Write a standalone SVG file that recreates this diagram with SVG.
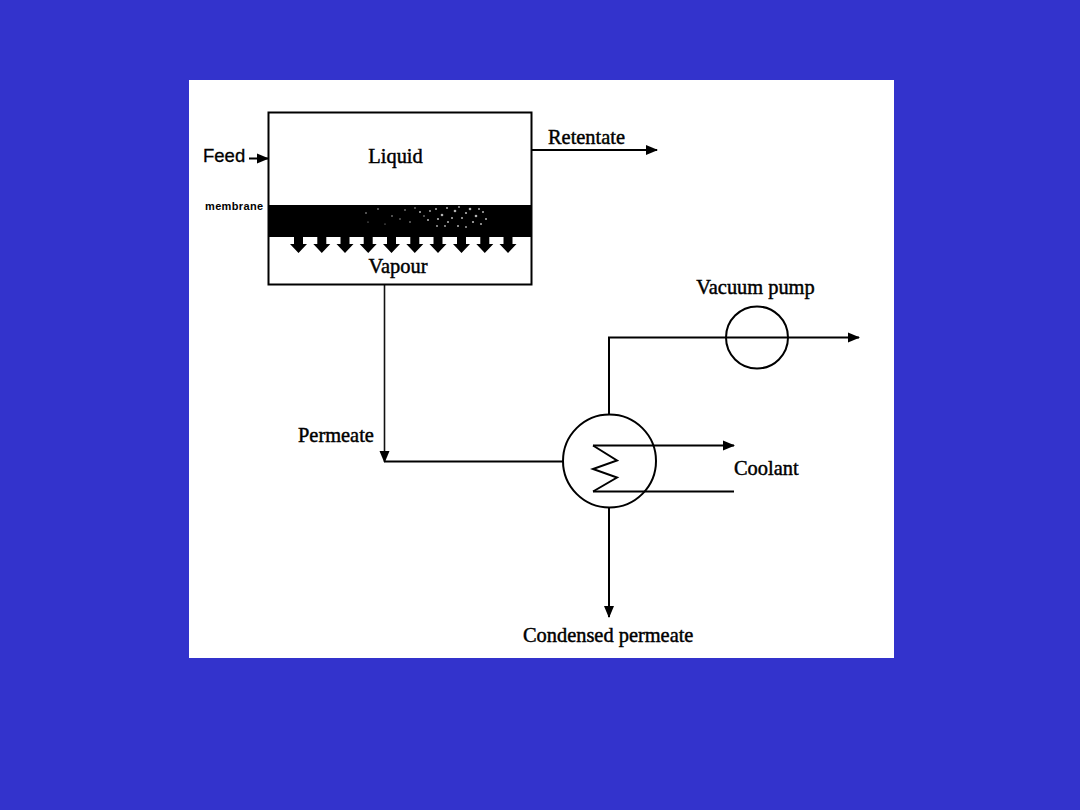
<svg xmlns="http://www.w3.org/2000/svg" width="1080" height="810" viewBox="0 0 1080 810">
<style>
.bg{fill:#3333cc}
.sheet{fill:#fff}
.ln{fill:none;stroke:#000;stroke-width:2}
.thin{fill:none;stroke:#111;stroke-width:1.6}
.t{font-family:"Liberation Serif",serif;font-size:20.400px;fill:#000;stroke:#000;stroke-width:.45}
.s{font-family:"Liberation Sans",sans-serif;fill:#000}
.head{fill:#000}
</style>
<defs>
<marker id="arrow" markerUnits="userSpaceOnUse" markerWidth="12" markerHeight="12" refX="11" refY="6" orient="auto"><path d="M0 1 L12 6 L0 11 Z" class="head"/></marker>
<path id="drop" d="M-4.500 -1 H4.500 V6 H8.500 L0 15 L-8.500 6 H-4.500 Z" class="head"/>
</defs>
<rect class="bg" width="1080" height="810"/>
<rect class="sheet" x="189" y="80" width="705" height="578"/>
<g id="connectors">
<path class="ln" d="M532 150 H657" marker-end="url(#arrow)"/>
<path class="ln" d="M249 158.500 H268" marker-end="url(#arrow)"/>
<path class="thin" d="M384.500 285 V462" />
<path class="head" d="M379.500 451 H389.500 L384.500 463 Z"/>
<path class="ln" d="M384.500 461.500 H563"/>
<path class="ln" d="M609 415 V337.500 H859" marker-end="url(#arrow)"/>
<path class="ln" d="M609 508 V617" marker-end="url(#arrow)"/>
<path class="ln" d="M593 445.500 H734" marker-end="url(#arrow)"/>
<path class="ln" d="M593 491.500 H734"/>
</g>
<g id="membrane-module">
<rect x="268.500" y="112.500" width="263" height="172" fill="#fff" stroke="#000" stroke-width="2"/>
<rect x="268" y="205" width="264" height="32" fill="#000"/>
<g fill="#fff" opacity=".7">
<circle cx="366" cy="213" r=".8"/><circle cx="378" cy="209" r=".8"/><circle cx="392" cy="216" r=".8"/><circle cx="405" cy="210" r=".8"/><circle cx="368" cy="222" r=".6"/><circle cx="385" cy="224" r=".6"/><circle cx="400" cy="219" r=".7"/><circle cx="415" cy="208" r=".8"/><circle cx="420" cy="212" r="1"/><circle cx="428" cy="220" r="1"/><circle cx="436" cy="209" r="1"/><circle cx="442" cy="215" r="1.300"/><circle cx="448" cy="222" r="1"/><circle cx="455" cy="211" r="1.300"/><circle cx="462" cy="218" r="1"/><circle cx="470" cy="209" r="1.300"/><circle cx="476" cy="216" r="1.300"/><circle cx="483" cy="212" r="1"/><circle cx="481" cy="224" r="1"/><circle cx="437" cy="226" r=".9"/><circle cx="410" cy="222" r=".8"/><circle cx="458" cy="226" r="1"/><circle cx="430" cy="211" r=".9"/><circle cx="447" cy="208" r="1"/><circle cx="438" cy="219" r="1.100"/><circle cx="445" cy="226" r=".9"/><circle cx="452" cy="218" r="1"/><circle cx="466" cy="213" r="1.100"/><circle cx="473" cy="222" r="1.100"/><circle cx="479" cy="209" r="1"/><circle cx="486" cy="219" r="1"/><circle cx="466" cy="227" r=".9"/><circle cx="424" cy="216" r=".8"/><circle cx="459" cy="207" r=".9"/>
</g>
<use href="#drop" x="298.500" y="238"/><use href="#drop" x="321.800" y="238"/><use href="#drop" x="345" y="238"/><use href="#drop" x="368.200" y="238"/><use href="#drop" x="391.500" y="238"/><use href="#drop" x="414.800" y="238"/><use href="#drop" x="438" y="238"/><use href="#drop" x="461.500" y="238"/><use href="#drop" x="484.800" y="238"/><use href="#drop" x="508" y="238"/>
<text class="t" x="395.500" y="163" text-anchor="middle">Liquid</text>
<text class="t" x="398" y="273" text-anchor="middle">Vapour</text>
</g>
<g id="vacuum-pump">
<circle class="ln" cx="757" cy="337.500" r="31"/>
<text class="t" x="755.500" y="294" text-anchor="middle">Vacuum pump</text>
</g>
<g id="condenser">
<circle class="ln" cx="609.500" cy="461" r="46.500"/>
<path class="ln" d="M593 445.500 L617 460.500 L593 469 L617 477.500 L593 491.500"/>
</g>
<g id="labels">
<text class="s" x="203" y="162" font-size="18.500" stroke="#000" stroke-width=".3">Feed</text>
<text class="s" x="205" y="210" font-size="11" font-weight="bold" letter-spacing=".35">membrane</text>
<text class="t" x="548" y="144">Retentate</text>
<text class="t" x="298" y="442">Permeate</text>
<text class="t" x="734" y="475">Coolant</text>
<text class="t" x="523" y="642">Condensed permeate</text>
</g>
</svg>
